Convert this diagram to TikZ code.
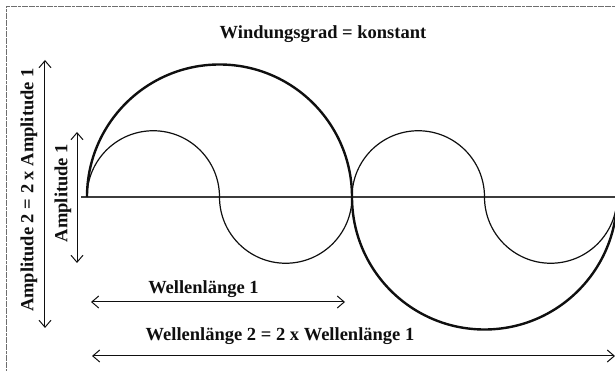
\documentclass[tikz,border=0pt]{standalone}
\usepackage{fontspec}
\setmainfont{Liberation Serif}
\usepackage{tikz}
\usetikzlibrary{arrows.meta,positioning}
\definecolor{inkblack}{RGB}{15,15,15}
\definecolor{axisgray}{RGB}{60,60,60}
\definecolor{framegray}{RGB}{110,110,110}

\begin{document}
\begin{tikzpicture}[x=1pt, y=1pt, >={Straight Barb[length=7pt,width=12pt]},
  lbl/.style={font=\bfseries\fontsize{18.5}{20}\selectfont, text=inkblack, inner sep=0pt},
  dimarrow/.style={<->, line width=1pt, inkblack}]
\useasboundingbox (-87,-174) rectangle (528,197);
% frame
\draw[framegray, line width=0.6pt, dash pattern=on 3pt off 0.6pt] (528,191) -- (-81,191) -- (-81,-174);
% axis
\coordinate (ax0) at (-6,0);
\coordinate (ax1) at (530,0);
\draw[axisgray, line width=1.1pt] (ax0) -- (ax1);
% Amplitude 1 wave
\coordinate (w0) at (0,0);
\draw[inkblack, line width=1.2pt] (w0) arc[start angle=180, end angle=0, radius=66.25pt]
  arc[start angle=180, end angle=360, radius=66.25pt]
  arc[start angle=180, end angle=0, radius=66.25pt]
  arc[start angle=180, end angle=360, radius=66.25pt];
% Amplitude 2 wave
\draw[inkblack, line width=2.4pt] (w0) arc[start angle=180, end angle=0, radius=132.5pt]
  arc[start angle=180, end angle=360, radius=132.5pt];
% title
\node[lbl, anchor=base] (title) at (236,158) {Windungsgrad = konstant};
% amplitude arrows
\coordinate (a2top) at (-42,137);
\coordinate (a2bot) at (-42,-131);
\draw[dimarrow] (a2top) -- (a2bot);
\node[lbl, rotate=90] (amp2) at (-58,7) {Amplitude 2 = 2 x Amplitude 1};
\coordinate (a1top) at (-10,65);
\coordinate (a1bot) at (-10,-66);
\draw[dimarrow] (a1top) -- (a1bot);
\node[lbl, rotate=90] (amp1) at (-24,4) {Amplitude 1};
% wavelength arrows
\coordinate (l1a) at (4,-105);
\coordinate (l1b) at (258,-105);
\draw[dimarrow] (l1a) -- (l1b);
\node[lbl, anchor=base] (wl1) at (116.5,-97) {Wellenlänge 1};
\coordinate (l2a) at (5,-159);
\coordinate (l2b) at (528,-159);
\draw[dimarrow] (l2a) -- (l2b);
\node[lbl, anchor=base] (wl2) at (193,-144) {Wellenlänge 2 = 2 x Wellenlänge 1};
\end{tikzpicture}
\end{document}
